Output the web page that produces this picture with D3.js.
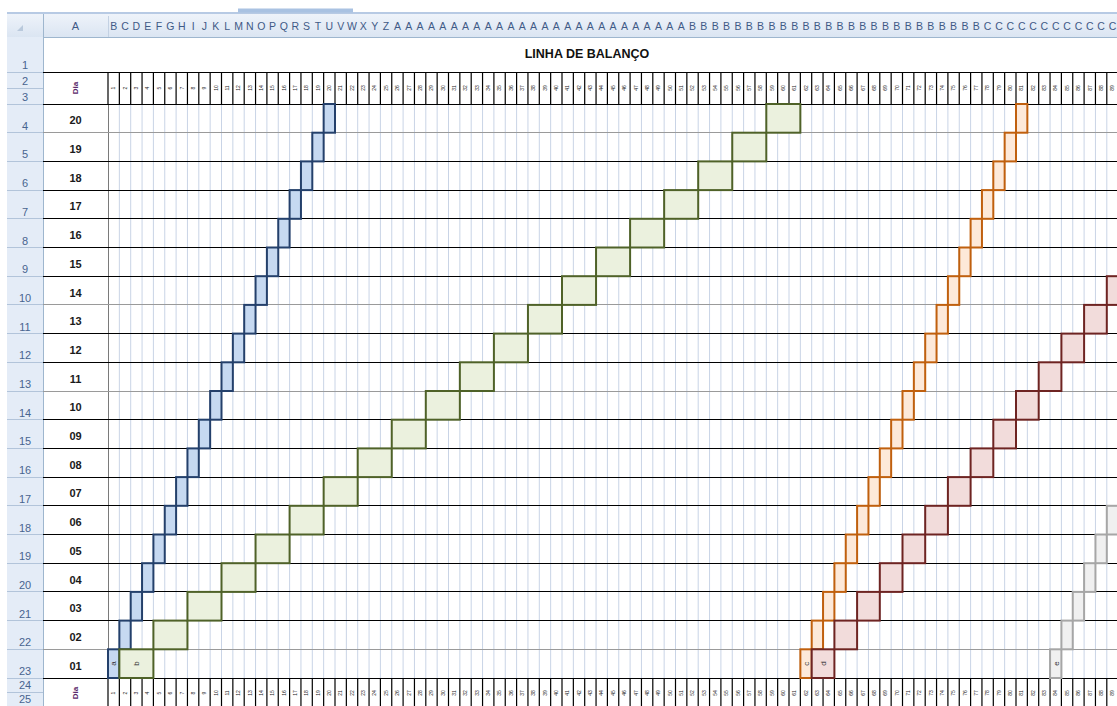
<!DOCTYPE html>
<html><head><meta charset="utf-8">
<script src="https://cdn.jsdelivr.net/npm/d3@7"></script>
<style>html,body{margin:0;padding:0;background:#fff;overflow:hidden}svg{display:block}</style>
</head><body>
<svg id="c" width="1117" height="706"></svg>
<script>
// Pavimentos (units), bottom to top
const units = ["01","02","03","04","05","06","07","08","09","10","11","12","13","14","15","16","17","18","19","20"];

// Start day (column index after column A) of each activity, per unit
const startA = [0,1,2,3,4,5,6,7,8,9,10,11,12,13,14,15,16,17,18,19];
const startB = [1,4,7,10,13,16,19,22,25,28,31,34,37,40,43,46,49,52,55,58];
const startC = [61,62,63,64,65,66,67,68,69,70,71,72,73,74,75,76,77,78,79,80];
const startD = [62,64,66,68,70,72,74,76,78,80,82,84,86,88];
const startE = [83,84,85,86,87,88];

// Duration (days) of each activity per unit
const durA = 1, durB = 3, durC = 1, durD = 2, durE = 1;

// Activity names written in the first unit's cell
const activityNames = ["a","b","c","d","e"];

// Day labels written in the header rows
const dayLabels = ["1","2","3","4","5","6","7","8","9","10","11","12","13","14","15","16","17","18","19","20",
  "21","22","23","24","25","26","27","28","29","30","31","32","33","34","35","36","37","38","39","40",
  "41","42","43","44","45","46","47","48","49","50","51","52","53","54","55","56","57","58","59","60",
  "61","62","63","64","65","66","67","68","69","70","71","72","73","74","75","76","77","78","79","80",
  "81","82","83","84","85","86","87","88","89"];

const title = "LINHA DE BALANÇO";
const dayHeader = "Dia";

// ---- styles ----
const palette = [
  {fill:"#c6d9f1", stroke:"#24406b"},
  {fill:"#ebf1de", stroke:"#4f6228"},
  {fill:"#fde9d9", stroke:"#c0600e"},
  {fill:"#f2dcdb", stroke:"#6e2422"},
  {fill:"#f0f0f0", stroke:"#a6a6a6"}
];
const activities = [
  {name:activityNames[0], starts:startA, dur:durA},
  {name:activityNames[1], starts:startB, dur:durB},
  {name:activityNames[2], starts:startC, dur:durC},
  {name:activityNames[3], starts:startD, dur:durD},
  {name:activityNames[4], starts:startE, dur:durE}
].map((a,i)=>Object.assign(a, palette[i]));

const W = 1117, H = 706;
const colW = 11.35, gridLeft = 108;
const nCols = dayLabels.length;
const hdrX0 = 7, hdrX1 = 43;          // row-number column
const colHdrY0 = 14, colHdrY1 = 37;   // column-letter band
const row1Y = [37, 72], hdrRows = [72, 104], bodyY = [104, 678], footRows = [678, 706];
const hdrFont = "Arial, 'Liberation Sans', sans-serif";

const svg = d3.select("#c");
const x = d3.scaleLinear().domain([0, nCols]).range([gridLeft, gridLeft + nCols * colW]);
const y = d3.scaleBand().domain(units.slice().reverse()).range(bodyY);

// Spreadsheet column names (A is the label column)
function colName(i){ let s=""; i+=1; while(i>0){ const m=(i-1)%26; s=String.fromCharCode(65+m)+s; i=Math.floor((i-1)/26);} return s; }

const defs = svg.append("defs");
const g1 = defs.append("linearGradient").attr("id","hdrGrad").attr("x1",0).attr("y1",0).attr("x2",0).attr("y2",1);
g1.append("stop").attr("offset","0%").attr("stop-color","#eef3fa");
g1.append("stop").attr("offset","100%").attr("stop-color","#dbe5f2");

svg.append("rect").attr("width",W).attr("height",H).attr("fill","#fff");

// ---- window chrome above the sheet ----
svg.append("line").attr("x1",hdrX0).attr("x2",W).attr("y1",13).attr("y2",13)
  .attr("stroke","#9fb9db").attr("stroke-width",1.5);
svg.append("rect").attr("x",238).attr("y",8.5).attr("width",115).attr("height",4).attr("fill","#a9c2e2");

// ---- column header band ----
svg.append("rect").attr("x",hdrX0).attr("y",colHdrY0).attr("width",W-hdrX0).attr("height",colHdrY1-colHdrY0)
  .attr("fill","url(#hdrGrad)");
svg.append("line").attr("x1",hdrX0).attr("x2",W).attr("y1",colHdrY1).attr("y2",colHdrY1)
  .attr("stroke","#9eb6ce").attr("shape-rendering","crispEdges");
svg.append("path").attr("d","M17,31 L23,31 L23,25 Z").attr("fill","#b9c9dc");
[hdrX1, gridLeft].forEach(v => svg.append("line").attr("x1",v).attr("x2",v)
  .attr("y1",colHdrY0+2).attr("y2",colHdrY1).attr("stroke","#c3d1e3").attr("shape-rendering","crispEdges"));
svg.append("text").attr("x",(hdrX1+gridLeft)/2).attr("y",30).attr("text-anchor","middle")
  .attr("font-family",hdrFont).attr("font-size",11).attr("fill","#3f5a86").text("A");

// narrow columns only have room for the first letter of their name
svg.append("g").selectAll("text").data(d3.range(nCols)).join("text")
  .attr("x", i => x(i)+colW/2).attr("y",30).attr("text-anchor","middle")
  .attr("font-family",hdrFont).attr("font-size",10.5).attr("fill","#3f5a86")
  .text(i => colName(i+1).charAt(0));

// ---- row number column ----
svg.append("rect").attr("x",hdrX0).attr("y",colHdrY1).attr("width",hdrX1-hdrX0).attr("height",H-colHdrY1)
  .attr("fill","#e4ecf7");
svg.append("line").attr("x1",hdrX1).attr("x2",hdrX1).attr("y1",colHdrY0).attr("y2",H)
  .attr("stroke","#9eb6ce").attr("shape-rendering","crispEdges");
const rowEdges = [row1Y[0], row1Y[1], 88, hdrRows[1]]
  .concat(y.domain().map(u => y(u) + y.bandwidth()))
  .concat([692, 706]);
const rowHdr = svg.append("g");
rowEdges.slice(1).forEach((b,i) => {
  rowHdr.append("line").attr("x1",hdrX0).attr("x2",hdrX1).attr("y1",b).attr("y2",b)
    .attr("stroke","#b2c4da").attr("shape-rendering","crispEdges");
  rowHdr.append("text").attr("x",(hdrX0+hdrX1)/2).attr("y",b-3).attr("text-anchor","middle")
    .attr("font-family",hdrFont).attr("font-size",11).attr("fill","#48648f").text(i+1);
});

// ---- title ----
svg.append("text").attr("x",587).attr("y",58).attr("text-anchor","middle")
  .attr("font-family",hdrFont).attr("font-weight","bold").attr("font-size",12.5).attr("fill","#111")
  .text(title);

// ---- body gridlines ----
const grid = svg.append("g");
d3.range(1, nCols+1).forEach(i => {
  grid.append("line").attr("x1",x(i)).attr("x2",x(i)).attr("y1",bodyY[0]).attr("y2",bodyY[1])
    .attr("stroke","#c9d4e6").attr("stroke-width",1);
});
grid.append("line").attr("x1",x(0)).attr("x2",x(0)).attr("y1",bodyY[0]).attr("y2",bodyY[1])
  .attr("stroke","#7a7a7a").attr("shape-rendering","crispEdges");

// unit boundaries: most are solid black borders, a few fall back to the light rule
const lightRules = new Set([1, 7, 10, 19]);
const bounds = [bodyY[0]].concat(y.domain().map(u => y(u) + y.bandwidth()));
bounds.forEach((b,k) => {
  grid.append("line").attr("x1",hdrX1).attr("x2",W).attr("y1",b).attr("y2",b)
    .attr("stroke", lightRules.has(k) ? "#9a9a9a" : "#000")
    .attr("shape-rendering","crispEdges");
});

// ---- day header rows (top and bottom) ----
function dayRows(y0, y1){
  const g = svg.append("g");
  g.append("line").attr("x1",hdrX1).attr("x2",W).attr("y1",y0).attr("y2",y0).attr("stroke","#000").attr("shape-rendering","crispEdges");
  g.append("line").attr("x1",hdrX1).attr("x2",W).attr("y1",y1).attr("y2",y1).attr("stroke","#000").attr("shape-rendering","crispEdges");
  d3.range(0, nCols+1).forEach(i => {
    g.append("line").attr("x1",x(i)).attr("x2",x(i)).attr("y1",y0).attr("y2",y1)
      .attr("stroke","#000").attr("stroke-width",1.2);
  });
  const cy = (y0+y1)/2;
  dayLabels.forEach((d,i) => {
    const cx = x(i)+colW/2;
    g.append("text").attr("transform",`translate(${cx},${cy}) rotate(-90)`)
      .attr("text-anchor","middle").attr("dy","0.35em")
      .attr("font-family",hdrFont).attr("font-size",5).attr("fill","#222").text(d);
  });
  g.append("text").attr("transform",`translate(${(hdrX1+gridLeft)/2},${cy}) rotate(-90)`)
    .attr("text-anchor","middle").attr("dy","0.35em")
    .attr("font-family",hdrFont).attr("font-weight","bold").attr("font-size",8).attr("fill","#5a2a6a").text(dayHeader);
}
dayRows(hdrRows[0], hdrRows[1]);
dayRows(footRows[0], footRows[1]+2);

// ---- unit labels in column A ----
svg.append("g").selectAll("text").data(units).join("text")
  .attr("x",(hdrX1+gridLeft)/2).attr("y",d => y(d) + y.bandwidth()/2 + 6)
  .attr("text-anchor","middle").attr("font-family",hdrFont).attr("font-weight","bold")
  .attr("font-size",11).attr("fill","#1a1a1a").text(d => d);

// ---- activity blocks ----
const blocks = svg.append("g");
activities.forEach(act => {
  blocks.append("g").selectAll("rect").data(act.starts).join("rect")
    .attr("x", s => x(s)).attr("width", act.dur*colW)
    .attr("y", (s,i) => y(units[i])).attr("height", y.bandwidth())
    .attr("fill", act.fill).attr("stroke", act.stroke).attr("stroke-width", 2);
  const s0 = act.starts[0];
  blocks.append("text")
    .attr("transform", `translate(${x(s0)+act.dur*colW/2},${y(units[0])+y.bandwidth()/2}) rotate(-90)`)
    .attr("text-anchor","middle").attr("dy","0.35em")
    .attr("font-family",hdrFont).attr("font-size",8).attr("fill","#333").text(act.name);
});
</script>
</body></html>
